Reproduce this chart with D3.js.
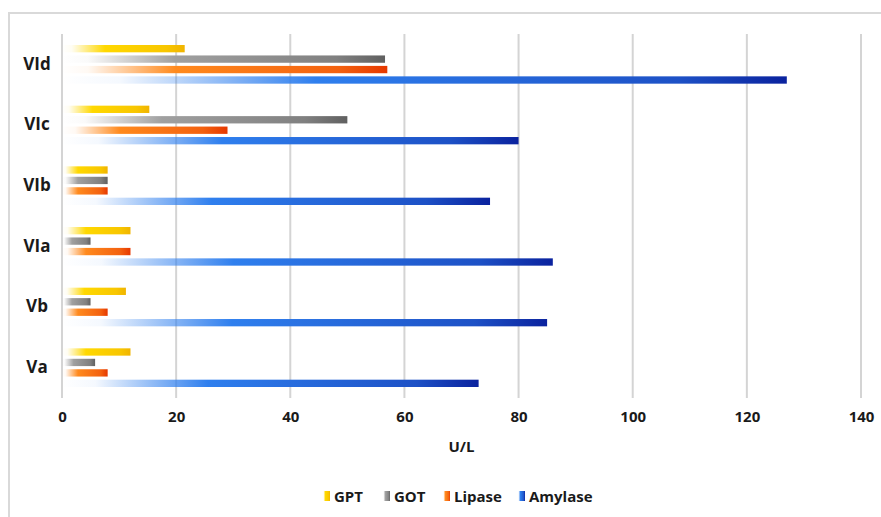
<!DOCTYPE html>
<html>
<head>
<meta charset="utf-8">
<script src="https://cdn.jsdelivr.net/npm/d3@7"></script>
<style>
  body { margin: 0; background: #fff; }
  text { font-family: "Open Sans", Lato, sans-serif; font-weight: bold; fill: #1a1a1a; }
</style>
</head>
<body>
<div id="chart"></div>
<script>
var categories = ["VId", "VIc", "VIb", "VIa", "Vb", "Va"];
var seriesNames = ["GPT", "GOT", "Lipase", "Amylase"];
var gpt = [21.5, 15.3, 8, 12, 11.2, 12];
var got = [56.6, 50, 8, 5, 5, 5.8];
var lipase = [57, 29, 8, 12, 8, 8];
var amylase = [127, 80, 75, 86, 85, 73];
var xTicks = [0, 20, 40, 60, 80, 100, 120, 140];

var seriesValues = [gpt, got, lipase, amylase];

// colour stops: [middle, end]
var palette = {
  GPT: ["#ffd800", "#f0b400"],
  GOT: ["#a0a0a0", "#606060"],
  Lipase: ["#ff8a1e", "#e63800"],
  Amylase: ["#2f7fee", "#0a229e"]
};

var svgWidth = 881;
var svgHeight = 517;

var svg = d3.select("#chart")
  .append("svg")
  .attr("width", svgWidth)
  .attr("height", svgHeight);

// chart frame (left and top edges visible)
svg.append("path")
  .attr("d", "M9,517 L9,13 L881,13")
  .attr("fill", "none")
  .attr("stroke", "#d9d9d9")
  .attr("stroke-width", 2);

var defs = svg.append("defs");
seriesNames.forEach(function(name) {
  var g = defs.append("linearGradient")
    .attr("id", "grad-" + name)
    .attr("x1", 0).attr("x2", 1).attr("y1", 0).attr("y2", 0);
  g.append("stop").attr("offset", 0).attr("stop-color", palette[name][0]).attr("stop-opacity", 0);
  g.append("stop").attr("offset", 0.08).attr("stop-color", palette[name][0]).attr("stop-opacity", 0.05);
  g.append("stop").attr("offset", 0.35).attr("stop-color", palette[name][0]).attr("stop-opacity", 1);
  g.append("stop").attr("offset", 0.85).attr("stop-color", d3.interpolateRgb(palette[name][0], palette[name][1])(0.5)).attr("stop-opacity", 1);
  g.append("stop").attr("offset", 1).attr("stop-color", palette[name][1]).attr("stop-opacity", 1);
});

var x = d3.scaleLinear()
  .domain([0, 140])
  .range([62, 861]);

var y = d3.scaleBand()
  .domain(categories)
  .range([34, 398]);

var inner = y.bandwidth() - 22;
var ySub = d3.scaleBand()
  .domain(seriesNames)
  .range([11, 11 + inner])
  .paddingInner(0.3);

// gridlines
svg.append("g")
  .selectAll("line")
  .data(xTicks)
  .enter()
  .append("line")
  .attr("x1", d => x(d))
  .attr("x2", d => x(d))
  .attr("y1", 34)
  .attr("y2", 398)
  .attr("stroke", "#d4d4d4")
  .attr("stroke-width", 2);

// x axis labels
var xAxis = d3.axisBottom(x)
  .tickValues(xTicks)
  .tickSize(0)
  .tickPadding(0);

var xg = svg.append("g")
  .attr("transform", "translate(0, 411)")
  .call(xAxis);
xg.select(".domain").remove();
xg.selectAll("text")
  .style("font-size", "15px")
  .attr("fill", "#1a1a1a");

// category labels
var yAxis = d3.axisLeft(y).tickSize(0).tickPadding(0);
var yg = svg.append("g")
  .attr("transform", "translate(37, 0)")
  .call(yAxis);
yg.select(".domain").remove();
yg.selectAll("text")
  .attr("text-anchor", "middle")
  .style("font-size", "17px")
  .attr("fill", "#1a1a1a");

// bars
var rows = [];
categories.forEach(function(c, i) {
  seriesNames.forEach(function(s, j) {
    rows.push({ cat: c, series: s, value: seriesValues[j][i] });
  });
});

svg.append("g")
  .selectAll("rect")
  .data(rows)
  .enter()
  .append("rect")
  .attr("x", x(0))
  .attr("y", d => y(d.cat) + ySub(d.series))
  .attr("width", d => x(d.value) - x(0))
  .attr("height", ySub.bandwidth())
  .attr("fill", d => "url(#grad-" + d.series + ")");

// axis title
svg.append("text")
  .attr("x", (x(0) + x(140)) / 2)
  .attr("y", 452)
  .attr("text-anchor", "middle")
  .style("font-size", "15px")
  .text("U/L");

// legend
var legendX = [323, 383, 443, 518];
var legend = svg.append("g")
  .selectAll("g")
  .data(seriesNames)
  .enter()
  .append("g")
  .attr("transform", (d, i) => `translate(${legendX[i]}, 491)`);

legend.append("rect")
  .attr("width", 7)
  .attr("height", 10)
  .attr("fill", d => "url(#grad-" + d + ")");

legend.append("text")
  .attr("x", 11)
  .attr("y", 10.5)
  .style("font-size", "15px")
  .text(d => d);
</script>
</body>
</html>
